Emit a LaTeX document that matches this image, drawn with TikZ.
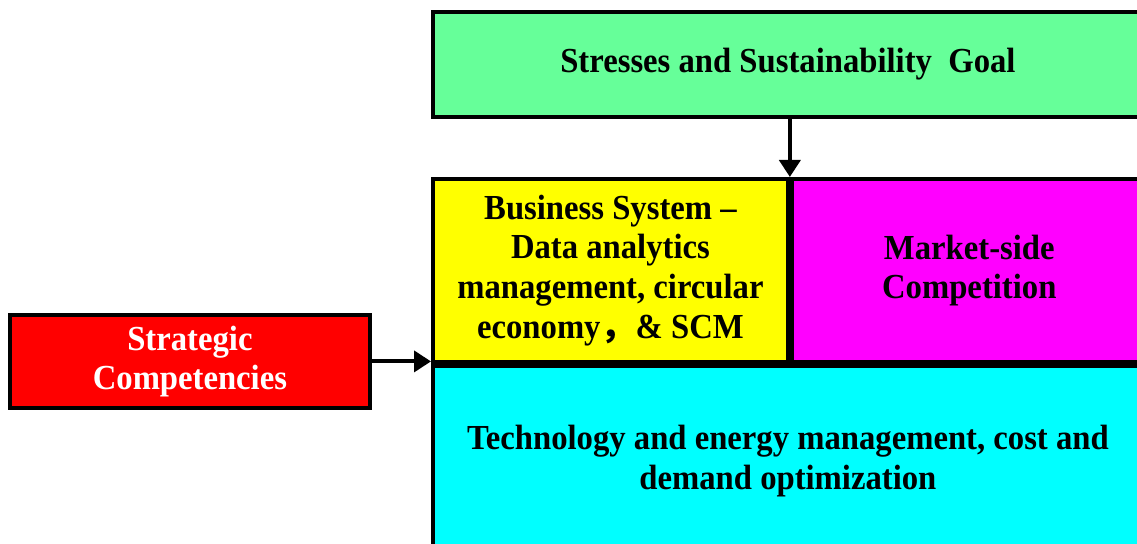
\documentclass[tikz,border=0pt]{standalone}
\usepackage{fontspec}
\setmainfont{Liberation Serif}[FakeStretch=0.93]
\newfontfamily\cjkfont{Noto Sans CJK SC}
\usetikzlibrary{arrows.meta}
\usetikzlibrary{positioning}
\definecolor{goalgreen}{RGB}{102,255,153}
\definecolor{sysyellow}{RGB}{255,255,0}
\definecolor{mktmagenta}{RGB}{255,0,255}
\definecolor{techcyan}{RGB}{0,255,255}
\definecolor{stratred}{RGB}{255,0,0}
\tikzset{
	block/.style={rectangle, draw, line width=1.1pt, inner sep=0pt, align=center,
		font=\fontsize{10}{11.3}\selectfont\bfseries},
	arrow/.style={draw, -{Triangle[length=1.7mm, width=2.1mm]}, line width=1.1pt}
}

\begin{document}
\begin{tikzpicture}
\useasboundingbox (0,0) rectangle (11.37,5.44);
\clip (0,0) rectangle (11.37,5.44);

\node[block, fill=goalgreen, anchor=north west, minimum width=7.1cm, minimum height=1.05cm]
	(goal) at (4.31,5.34) {Stresses and Sustainability\ \ Goal};

\node[block, fill=sysyellow, anchor=north west, minimum width=3.55cm, minimum height=1.83cm]
	(business) at (4.31,3.67)
	{Business System --\\Data analytics\\management, circular\\economy{\cjkfont ，}\& SCM};

\node[block, fill=mktmagenta, anchor=north west, minimum width=3.55cm, minimum height=1.83cm]
	(market) at (business.north east) {Market-side\\Competition};

\node[block, fill=techcyan, anchor=north west, minimum width=7.1cm, minimum height=1.9cm]
	(tech) at (business.south west)
	{Technology and energy management, cost and\\demand optimization};

\node[block, fill=stratred, text=white, anchor=north west, minimum width=3.6cm, minimum height=0.93cm]
	(strategic) at (0.08,2.31) {Strategic\\Competencies};

\draw [arrow] (goal.south -| business.north east) -- (business.north east);
\draw [arrow] (strategic.east) -- (strategic.east -| tech.north west);

\end{tikzpicture}
\end{document}
